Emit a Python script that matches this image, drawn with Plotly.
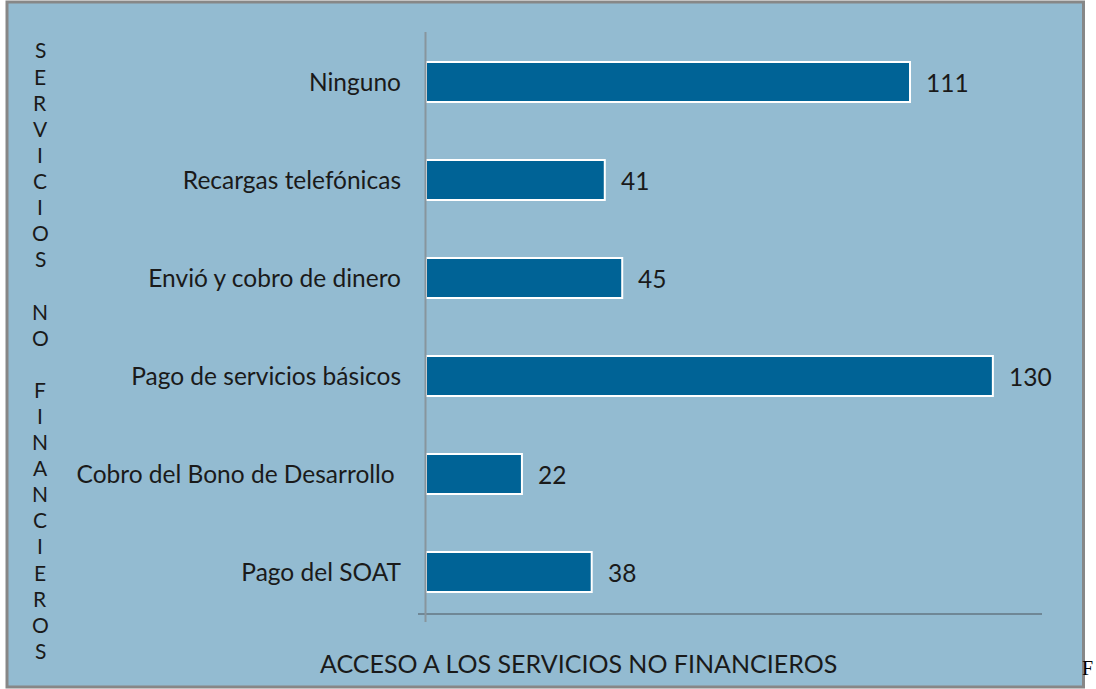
import plotly.graph_objects as go

categories = ["Ninguno", "Recargas telefónicas", "Envió y cobro de dinero",
              "Pago de servicios básicos", "Cobro del Bono de Desarrollo ", "Pago del SOAT"]
values = [111, 41, 45, 130, 22, 38]
x_title = "ACCESO A LOS SERVICIOS NO FINANCIEROS"
y_title_lines = ["S", "E", "R", "V", "I", "C", "I", "O", "S", "", "N", "O", "",
                 "F", "I", "N", "A", "N", "C", "I", "E", "R", "O", "S"]

W, H = 1096, 689
L, R, T, B = 426, 1043, 33, 621
pw, ph = R - L, B - T
def px(xp): return (xp - L) / pw
def py(yp): return (B - yp) / ph

FONT = "Lato"
TXT = "#1a1a1a"
FS = 24.5

fig = go.Figure()
fig.add_trace(go.Bar(
    y=categories, x=values, orientation="h",
    marker=dict(color="#006396", line=dict(color="white", width=2)),
    hoverinfo="skip",
))

annotations = []
for c, v in zip(categories, values):
    annotations.append(dict(x=v, y=c, xref="x", yref="y", text=str(v), showarrow=False,
                            xanchor="left", yanchor="middle", xshift=14,
                            font=dict(family=FONT, size=FS, color=TXT)))
annotations.append(dict(x=px(578), y=py(663), xref="paper", yref="paper", text=x_title,
                        showarrow=False, xanchor="center", yanchor="middle",
                        font=dict(family=FONT, size=25, color=TXT)))
for i, ch in enumerate(y_title_lines):
    if ch:
        annotations.append(dict(x=px(40), y=py(50 + 26.1 * i), xref="paper", yref="paper",
                                text=ch, showarrow=False, xanchor="center", yanchor="middle",
                                font=dict(family=FONT, size=21, color=TXT)))
annotations.append(dict(x=px(1095), y=py(668), xref="paper", yref="paper", text="F",
                        showarrow=False, xanchor="right", yanchor="middle",
                        font=dict(family="Liberation Serif", size=20, color="#000")))

shapes = [
    dict(type="rect", xref="paper", yref="paper", x0=px(7), x1=px(1083.5), y0=py(687), y1=py(2),
         fillcolor="#93BBD1", line=dict(color="#878787", width=3), layer="below"),
    dict(type="line", xref="paper", yref="paper", x0=px(418), x1=px(1042), y0=py(614), y1=py(614),
         line=dict(color="#6f8796", width=2), layer="above"),
    dict(type="line", xref="paper", yref="paper", x0=px(425.5), x1=px(425.5), y0=py(622), y1=py(32),
         line=dict(color="#88959d", width=2), layer="above"),
]

fig.update_layout(
    width=W, height=H,
    margin=dict(l=L, r=W - R, t=T, b=H - B, pad=0),
    paper_bgcolor="white", plot_bgcolor="rgba(0,0,0,0)",
    bargap=0.59, showlegend=False,
    annotations=annotations, shapes=shapes,
    xaxis=dict(range=[0, 141.5], showgrid=False, zeroline=False, showline=False,
               showticklabels=False, fixedrange=True),
    yaxis=dict(autorange="reversed", showgrid=False, zeroline=False, showline=False,
               ticks="", ticklabelstandoff=24,
               tickfont=dict(family=FONT, size=FS, color=TXT), fixedrange=True),
)
fig.write_html("out.html", config={"displayModeBar": False},
               post_script="document.body.style.margin='0';document.body.style.overflow='hidden';")
